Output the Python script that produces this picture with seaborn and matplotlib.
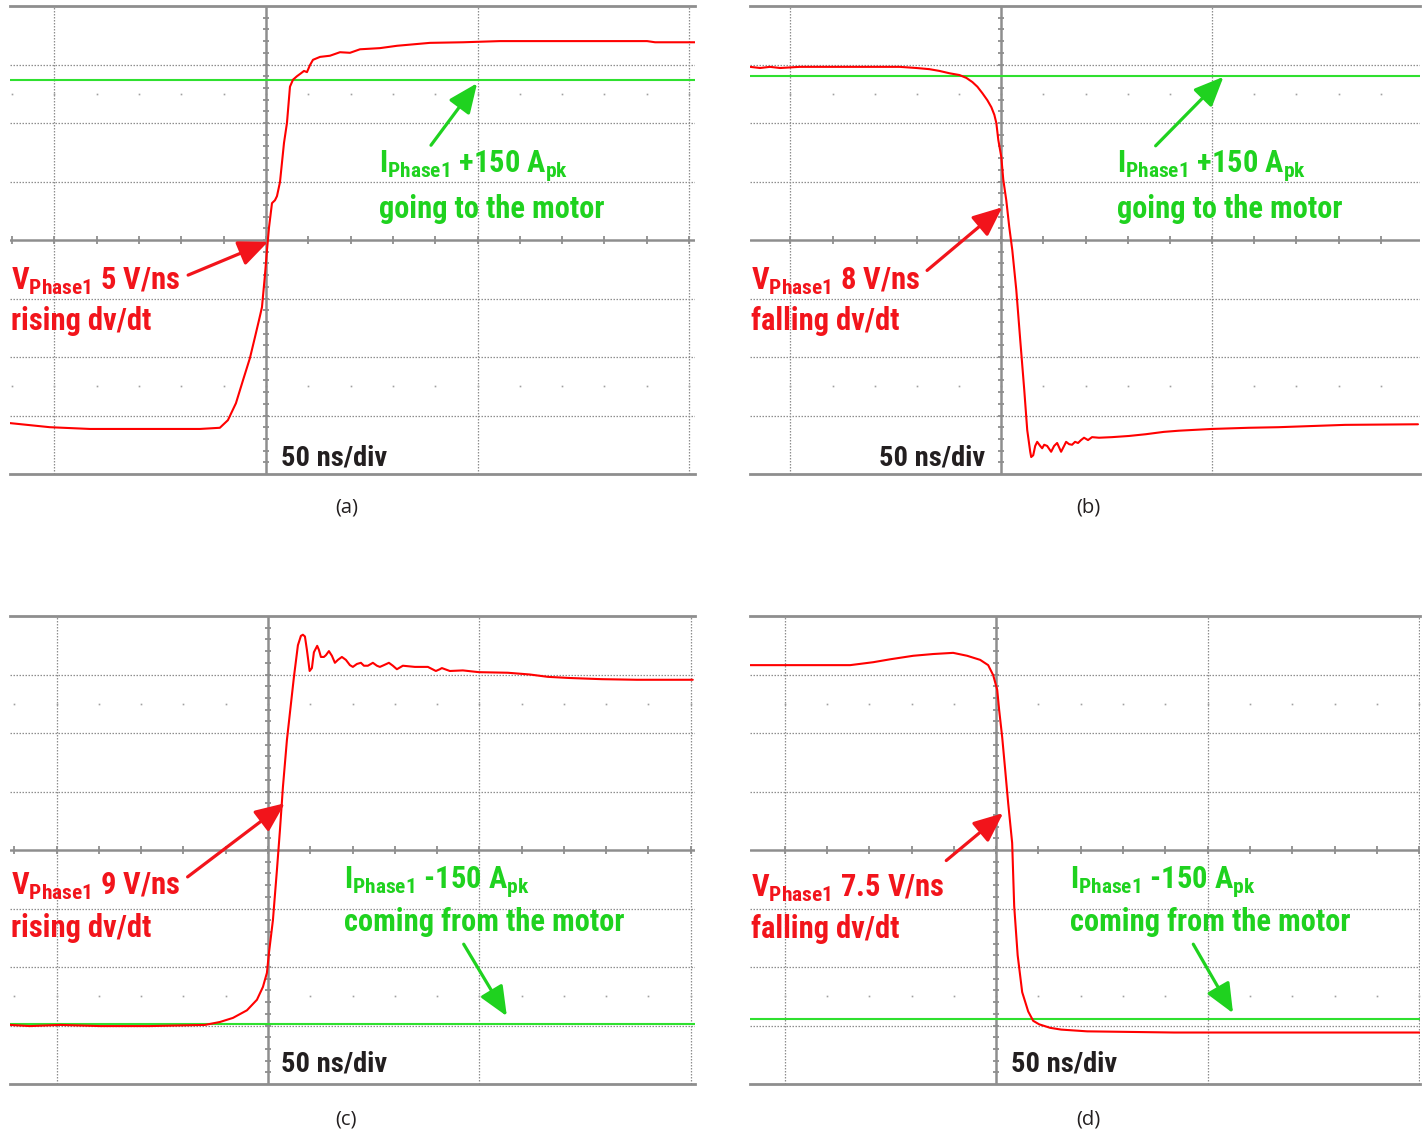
import os
import numpy as np
import matplotlib
matplotlib.use("Agg")
import matplotlib.pyplot as plt
import seaborn as sns
from matplotlib import font_manager as fm

# ---------------- data (time in ns, amplitude in screen divisions) ----------------
# panel (a): rising edge, +150 A going to the motor
a_time = [-60.5, -51.1, -41.6, -29.8, -15.6, -10.9, -9.0, -7.1, -5.4, -3.8, -2.6, -1.65, -0.95,
          -0.24, 0.24, 0.71, 1.42, 2.13, 2.60, 3.31, 4.26, 4.96, 5.67, 6.38, 7.33, 8.27, 8.98,
          9.69, 10.40, 11.11, 12.77, 15.13, 17.49, 19.86, 22.22, 26.95, 30.97, 38.77, 46.57,
          55.32, 78.96, 90.07, 91.96, 101.4]
a_volt = [-3.13, -3.20, -3.23, -3.23, -3.23, -3.21, -3.08, -2.79, -2.39, -2.02, -1.66, -1.37, -1.15,
          -0.60, -0.17, 0.21, 0.63, 0.68, 0.75, 0.99, 1.66, 2.00, 2.62, 2.74, 2.80, 2.85, 2.89,
          2.87, 2.99, 3.08, 3.13, 3.15, 3.21, 3.20, 3.26, 3.28, 3.32, 3.37, 3.38,
          3.40, 3.40, 3.40, 3.38, 3.38]
a_curr_time = [-60.5, 101.4]
a_curr = [2.74, 2.74]

# panel (b): falling edge, +150 A going to the motor
b_time = [-59.57, -57.21, -54.85, -52.48, -47.75, -35.93, -24.11, -20.09, -17.02, -14.66, -12.29,
          -9.93, -8.27, -6.86, -5.67, -4.49, -3.31, -2.36, -1.65, -1.18, -0.71, 0.0, 0.47, 1.18,
          1.89, 2.60, 3.55, 4.49, 5.44, 6.15, 6.86, 7.09, 7.57, 8.04, 8.51, 9.22, 9.69, 10.17,
          10.87, 11.82, 12.53, 13.24, 14.18, 14.89, 15.37, 16.08, 16.78, 17.49, 18.20, 18.91,
          19.62, 20.57, 21.51, 23.17, 26.24, 30.26, 34.28, 38.53, 42.08, 49.88, 58.63, 65.72,
          81.56, 98.82]
b_volt = [2.96, 2.94, 2.96, 2.94, 2.96, 2.96, 2.96, 2.94, 2.92, 2.89, 2.85,
          2.82, 2.77, 2.70, 2.62, 2.51, 2.39, 2.27, 2.14, 2.00, 1.71, 1.42, 1.03, 0.68,
          0.22, -0.17, -0.85, -1.71, -2.56, -3.25, -3.62, -3.71, -3.68, -3.52, -3.45, -3.52, -3.56, -3.50,
          -3.52, -3.62, -3.52, -3.47, -3.62, -3.52, -3.45, -3.49, -3.50, -3.45, -3.47, -3.42,
          -3.38, -3.42, -3.37, -3.38, -3.37, -3.35, -3.32, -3.28, -3.26, -3.23, -3.21, -3.20,
          -3.16, -3.15]
b_curr_time = [-59.6, 99.3]
b_curr = [2.81, 2.81]

# panel (c): rising edge, -150 A coming from the motor
c_time = [-60.99, -56.26, -49.17, -39.72, -27.90, -14.89, -11.35, -8.27, -4.96, -2.60, -1.18,
          -0.24, 0.24, 1.18, 2.13, 2.84, 3.55, 4.49, 6.15, 7.09, 7.80, 8.27, 8.75, 9.22,
          9.86, 10.40, 10.87, 11.65, 12.06, 12.53, 13.24, 13.71, 14.42, 15.13, 15.84, 16.55,
          17.49, 18.44, 19.39, 20.09, 21.04, 21.99, 22.70, 23.64, 24.82, 25.77, 26.48, 27.42,
          28.61, 29.55, 30.50, 31.21, 31.91, 34.75, 37.83, 39.72, 40.66, 41.13, 43.02, 46.10,
          49.88, 56.74, 61.94, 66.19, 71.40, 78.96, 87.24, 100.47]
c_volt = [-2.99, -3.01, -2.99, -3.01, -3.01, -2.99, -2.94, -2.87, -2.74, -2.56, -2.34,
          -2.10, -1.76, -1.20, -0.34, 0.34, 1.08, 1.88, 2.96, 3.50, 3.66, 3.68, 3.65, 3.42,
          3.06, 3.11, 3.38, 3.49, 3.42, 3.30, 3.30, 3.33, 3.40, 3.32, 3.20, 3.25,
          3.30, 3.25, 3.16, 3.13, 3.18, 3.20, 3.15, 3.15, 3.20, 3.15, 3.13, 3.16,
          3.20, 3.15, 3.09, 3.12, 3.15, 3.13, 3.13, 3.06, 3.09, 3.11, 3.06, 3.07,
          3.04, 3.03, 3.00, 2.96, 2.94, 2.92, 2.91, 2.91]
c_curr_time = [-61.0, 101.0]
c_curr = [-2.97, -2.97]

# panel (d): falling edge, -150 A coming from the motor
d_time = [-58.16, -51.06, -41.61, -34.52, -29.08, -25.06, -19.62, -14.89, -10.17, -6.86, -3.78,
          -1.89, -0.71, 0.24, 0.71, 1.42, 2.13, 2.84, 3.78, 4.26, 5.08, 6.15, 7.57, 8.75,
          10.17, 12.77, 15.37, 21.51, 42.08, 100.24]
d_volt = [3.16, 3.16, 3.16, 3.16, 3.21, 3.26, 3.32, 3.35, 3.37, 3.32, 3.25,
          3.16, 2.99, 2.74, 2.39, 1.93, 1.37, 0.80, 0.12, -0.96, -1.80, -2.43, -2.76, -2.92,
          -2.98, -3.04, -3.07, -3.10, -3.12, -3.12]
d_curr_time = [-58.2, 100.2]
d_curr = [-2.89, -2.89]

# text content
v_labels = ["V$_\\mathregular{Phase1}$ 5 V/ns", "V$_\\mathregular{Phase1}$ 8 V/ns",
            "V$_\\mathregular{Phase1}$ 9 V/ns", "V$_\\mathregular{Phase1}$ 7.5 V/ns"]
edge_labels = ["rising dv/dt", "falling dv/dt", "rising dv/dt", "falling dv/dt"]
i_labels = ["I$_\\mathregular{Phase1}$ +150 A$_\\mathregular{pk}$",
            "I$_\\mathregular{Phase1}$ +150 A$_\\mathregular{pk}$",
            "I$_\\mathregular{Phase1}$ -150 A$_\\mathregular{pk}$",
            "I$_\\mathregular{Phase1}$ -150 A$_\\mathregular{pk}$"]
dir_labels = ["going to the motor", "going to the motor",
              "coming from the motor", "coming from the motor"]
scale_label = "50 ns/div"
captions = ["(a)", "(b)", "(c)", "(d)"]

# ---------------- style ----------------
sns.set_theme(style="white")
plt.rcParams["font.family"] = ["DejaVu Sans"]
plt.rcParams["mathtext.default"] = "regular"


def find_font(names):
    files = [f.fname for f in fm.fontManager.ttflist]
    for n in names:
        for fn in files:
            if os.path.basename(fn).lower() == n:
                return fn
    return None


bold_file = find_font(["notosans-condensedbold.ttf", "liberationsansnarrow-bold.ttf",
                       "robotocondensed-bold.ttf", "opensans-condensedbold.ttf",
                       "dejavusanscondensed-bold.ttf", "liberationsans-bold.ttf"])


def bold_fp(size):
    if bold_file:
        return fm.FontProperties(fname=bold_file, size=size)
    return fm.FontProperties(family="DejaVu Sans", weight="bold", stretch="condensed", size=size)


RED_LINE = "#ff0000"
RED_TXT = "#f2141b"
GRN_LINE = "#2fe02f"
GRN_TXT = "#1fd21f"
GRID = "#8e8e8e"

W, H = 1427, 1135
fig = plt.figure(figsize=(W / 100, H / 100), dpi=100)

panels = [
    dict(box=(10, 6, 695, 474), xlim=(-60.5, 101.4), t=a_time, v=a_volt, ct=a_curr_time, cv=a_curr,
         vtxt=(-60.3, -0.85, -1.54), itxt=(26.7, 1.16, 0.376),
         rarrow=((-18.4, -0.60), (0.5, -0.03)), garrow=((39.0, 1.62), (49.9, 2.68)),
         scale=(3.5, -3.86, "left"), cap=(347, 507)),
    dict(box=(750, 6, 1420, 474), xlim=(-59.6, 99.3), t=b_time, v=b_volt, ct=b_curr_time, cv=b_curr,
         vtxt=(-59.4, -0.85, -1.54), itxt=(27.4, 1.16, 0.376),
         rarrow=((-17.6, -0.52), (0.24, 0.56)), garrow=((36.6, 1.61), (52.7, 2.79)),
         scale=(-3.8, -3.86, "right"), cap=(1088, 507)),
    dict(box=(10, 616, 695, 1084), xlim=(-61.0, 101.0), t=c_time, v=c_volt, ct=c_curr_time, cv=c_curr,
         vtxt=(-60.8, -0.77, -1.48), itxt=(18.0, -0.65, -1.38),
         rarrow=((-19.0, -0.46), (4.0, 0.80)), garrow=((46.3, -1.61), (56.5, -2.84)),
         scale=(3.1, -3.79, "left"), cap=(346, 1120)),
    dict(box=(750, 616, 1420, 1084), xlim=(-58.2, 100.2), t=d_time, v=d_volt, ct=d_curr_time, cv=d_curr,
         vtxt=(-58.0, -0.80, -1.50), itxt=(17.5, -0.65, -1.38),
         rarrow=((-11.8, -0.18), (1.65, 0.63)), garrow=((46.6, -1.61), (56.0, -2.79)),
         scale=(3.5, -3.79, "left"), cap=(1088, 1120)),
]

for i, p in enumerate(panels):
    l, t, r, b = p["box"]
    ax = fig.add_axes([l / W, 1 - b / H, (r - l) / W, (b - t) / H])
    ax.set_xlim(*p["xlim"])
    ax.set_ylim(-4, 4)
    ax.set_xticks([])
    ax.set_yticks([])
    ax.set_facecolor("white")
    for s in ["left", "right"]:
        ax.spines[s].set_visible(False)
    for s in ["top", "bottom"]:
        ax.spines[s].set_color(GRID)
        ax.spines[s].set_linewidth(2.0)

    # graticule
    for yv in [-3, -2, -1, 1, 2, 3]:
        ax.axhline(yv, color=GRID, lw=0.9, ls=(0, (1.2, 1.2)), zorder=1)
    for xv in [-50, 50, 100]:
        ax.axvline(xv, color=GRID, lw=0.9, ls=(0, (1.2, 1.2)), zorder=1)
    ax.axhline(0, color=GRID, lw=1.8, zorder=1.5)
    ax.axvline(0, color=GRID, lw=1.8, zorder=1.5)
    tt = np.arange(-60, 101, 10)
    tt = tt[(tt >= p["xlim"][0]) & (tt <= p["xlim"][1])]
    ax.vlines(tt, -0.06, 0.06, color=GRID, lw=1.3, zorder=1.5)
    vv = np.round(np.arange(-3.8, 3.81, 0.2), 2)
    ax.hlines(vv, -0.75, 0.75, color=GRID, lw=1.3, zorder=1.5)
    for yd in (2.5, -2.5):
        ax.plot(tt, np.full(len(tt), yd), ls="none", marker="s", ms=1.2, mec="none",
                color="#a0a0a0", zorder=1)

    # traces
    sns.lineplot(x=p["ct"], y=p["cv"], ax=ax, color=GRN_LINE, lw=1.5, sort=False,
                 estimator=None, legend=False, zorder=2.5)
    sns.lineplot(x=p["t"], y=p["v"], ax=ax, color=RED_LINE, lw=1.5, sort=False,
                 estimator=None, legend=False, zorder=3)

    # annotations
    fpb = bold_fp(22)
    vx, vy1, vy2 = p["vtxt"]
    ax.text(vx, vy1, v_labels[i], fontproperties=fpb, color=RED_TXT, ha="left", va="baseline", zorder=5)
    ax.text(vx, vy2, edge_labels[i], fontproperties=fpb, color=RED_TXT, ha="left", va="baseline", zorder=5)
    ix, iy1, iy2 = p["itxt"]
    ax.text(ix, iy1, i_labels[i], fontproperties=fpb, color=GRN_TXT, ha="left", va="baseline", zorder=5)
    ax.text(ix, iy2, dir_labels[i], fontproperties=fpb, color=GRN_TXT, ha="left", va="baseline", zorder=5)
    sx, sy, sha = p["scale"]
    ax.text(sx, sy, scale_label, fontproperties=bold_fp(20.5), color="#231f20", ha=sha,
            va="baseline", zorder=5)

    for (tail, head), col in ((p["rarrow"], RED_TXT), (p["garrow"], GRN_TXT)):
        ax.annotate("", xy=head, xytext=tail,
                    arrowprops=dict(arrowstyle="-|>,head_length=1.5,head_width=0.65",
                                    color=col, lw=2.3, mutation_scale=12, shrinkA=0, shrinkB=0),
                    zorder=6)

    cx, cy = p["cap"]
    fig.text(cx / W, 1 - cy / H, captions[i], ha="center", va="center", fontsize=14.5,
             family=["Open Sans", "DejaVu Sans"], color="#231f20")

fig.savefig("out.png", dpi=100)
